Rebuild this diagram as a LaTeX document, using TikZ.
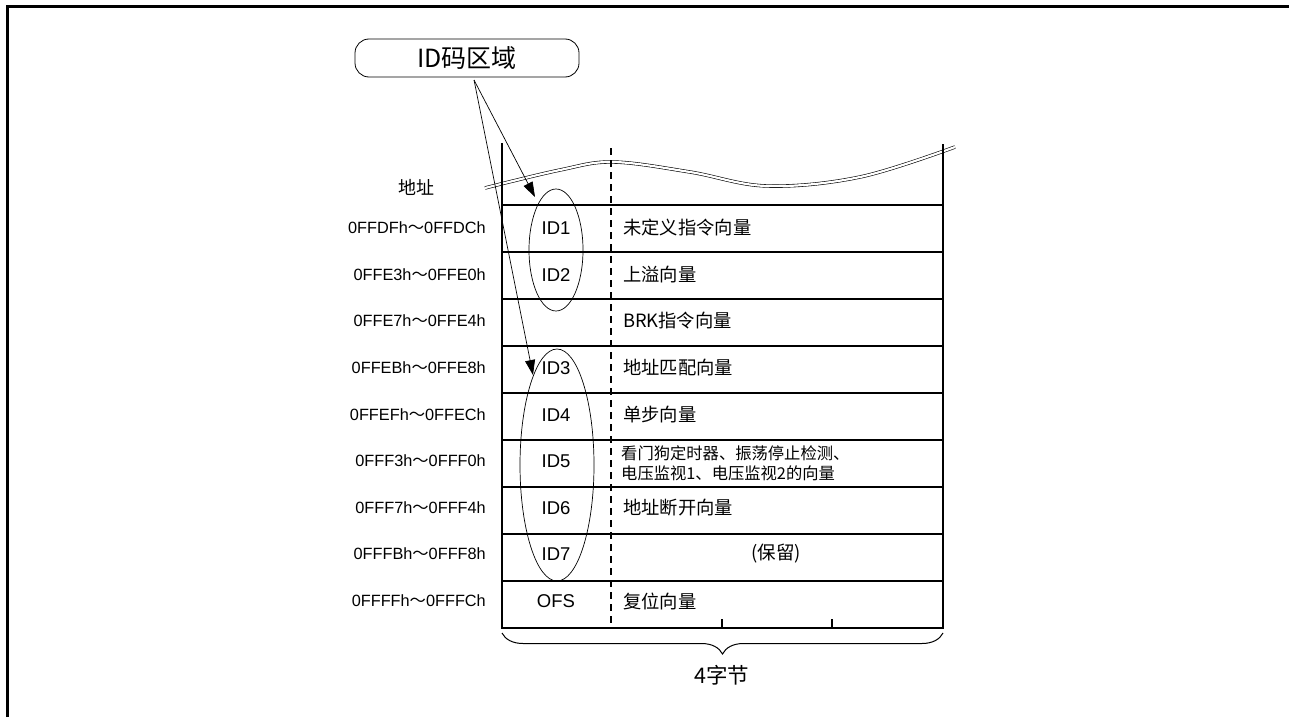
\documentclass[tikz,border=0pt]{standalone}
\usepackage{fontspec}
\setmainfont{Liberation Sans}
\newfontfamily\cjk{Noto Sans CJK SC}
\usetikzlibrary{decorations.pathreplacing,arrows.meta,shapes.geometric}
\begin{document}
\begin{tikzpicture}[x=1pt,y=-1pt,
  tbl/.style={line width=1.3pt},
  addr/.style={anchor=east,font=\fontsize{16.3}{18}\selectfont,inner sep=0pt},
  idl/.style={font=\fontsize{18.5}{20}\selectfont,inner sep=0pt},
  vec/.style={anchor=west,font=\cjk\fontsize{18.3}{20}\selectfont,inner sep=0pt},
  oval/.style={draw,ellipse,line width=0.7pt,inner sep=0pt},
  ptr/.style={line width=0.7pt,-{Triangle[length=15pt,width=10pt]}}
]
\useasboundingbox (0,0) rectangle (1289,717);
% frame
\draw[line width=3pt] (7,717) -- (7,7) -- (1289,7);
% wave
\draw[line width=0.6pt,double,double distance=2.2pt] plot[smooth,tension=0.6] coordinates {(485,188) (560,170) (613,162) (690,172) (767,186) (860,177) (955,147)};
% table
\draw[tbl] (502,143) -- (502,628) -- (943,628) -- (943,144);
\foreach \yy in {205,252,299,346,393,440,487,534,581}
  \draw[tbl] (502,\yy) -- (943,\yy);
\draw[line width=1.3pt,dash pattern=on 7pt off 5pt] (611,148) -- (611,628);
\draw[tbl] (722,619) -- (722,628);
\draw[tbl] (832,619) -- (832,628);
% brace
\draw[line width=1pt,decorate,decoration={brace,mirror,amplitude=21pt}] (502,633) -- (943,633);
\node[font=\cjk\fontsize{21.5}{23}\selectfont] (bytes) at (722,675) {4字节};
% header
\node[font=\cjk\fontsize{18}{20}\selectfont,inner sep=0pt] (hdr) at (416,187) {地址};
% address labels
\node[addr] (a1) at (486,228) {0FFDFh{\cjk ～}0FFDCh};
\node[addr] (a2) at (486,275) {0FFE3h{\cjk ～}0FFE0h};
\node[addr] (a3) at (486,321) {0FFE7h{\cjk ～}0FFE4h};
\node[addr] (a4) at (486,368) {0FFEBh{\cjk ～}0FFE8h};
\node[addr] (a5) at (486,415) {0FFEFh{\cjk ～}0FFECh};
\node[addr] (a6) at (486,461) {0FFF3h{\cjk ～}0FFF0h};
\node[addr] (a7) at (486,508) {0FFF7h{\cjk ～}0FFF4h};
\node[addr] (a8) at (486,554) {0FFFBh{\cjk ～}0FFF8h};
\node[addr] (a9) at (486,601) {0FFFFh{\cjk ～}0FFFCh};
% id labels
\node[idl] (i1) at (556,228) {ID1};
\node[idl] (i2) at (556,275) {ID2};
\node[idl] (i3) at (556,368) {ID3};
\node[idl] (i4) at (556,415) {ID4};
\node[idl] (i5) at (556,461) {ID5};
\node[idl] (i6) at (556,508) {ID6};
\node[idl] (i7) at (556,554) {ID7};
\node[idl] (i9) at (556,601) {OFS};
% vectors
\node[vec] (v1) at (623,228) {未定义指令向量};
\node[vec] (v2) at (623,275) {上溢向量};
\node[vec] (v3) at (623,321) {BRK指令向量};
\node[vec] (v4) at (623,368) {地址匹配向量};
\node[vec] (v5) at (623,415) {单步向量};
\node[vec,font=\cjk\fontsize{16.3}{20}\selectfont,align=left] (v6) at (621,463) {看门狗定时器、振荡停止检测、\\电压监视1、电压监视2的向量};
\node[vec] (v7) at (623,508) {地址断开向量};
\node[font=\cjk\fontsize{18.5}{20}\selectfont,inner sep=0pt] (v8) at (776,554) {(保留)};
\node[vec] (v9) at (623,601) {复位向量};
% ovals
\node[oval,minimum width=54pt,minimum height=122pt] (e1) at (556,250) {};
\node[oval,minimum width=74pt,minimum height=232pt] (e2) at (557,465) {};
% callout
\node[draw,line width=0.8pt,rounded corners=14pt,minimum width=224pt,minimum height=38pt,font=\cjk\fontsize{25}{27}\selectfont] (call) at (467,58) {ID码区域};
\coordinate (src) at (474,80);
\coordinate (tip1) at (535,197);
\coordinate (tip2) at (533,375);
\draw[ptr] (src) -- (tip1);
\draw[ptr] (src) -- (tip2);
\end{tikzpicture}
\end{document}
